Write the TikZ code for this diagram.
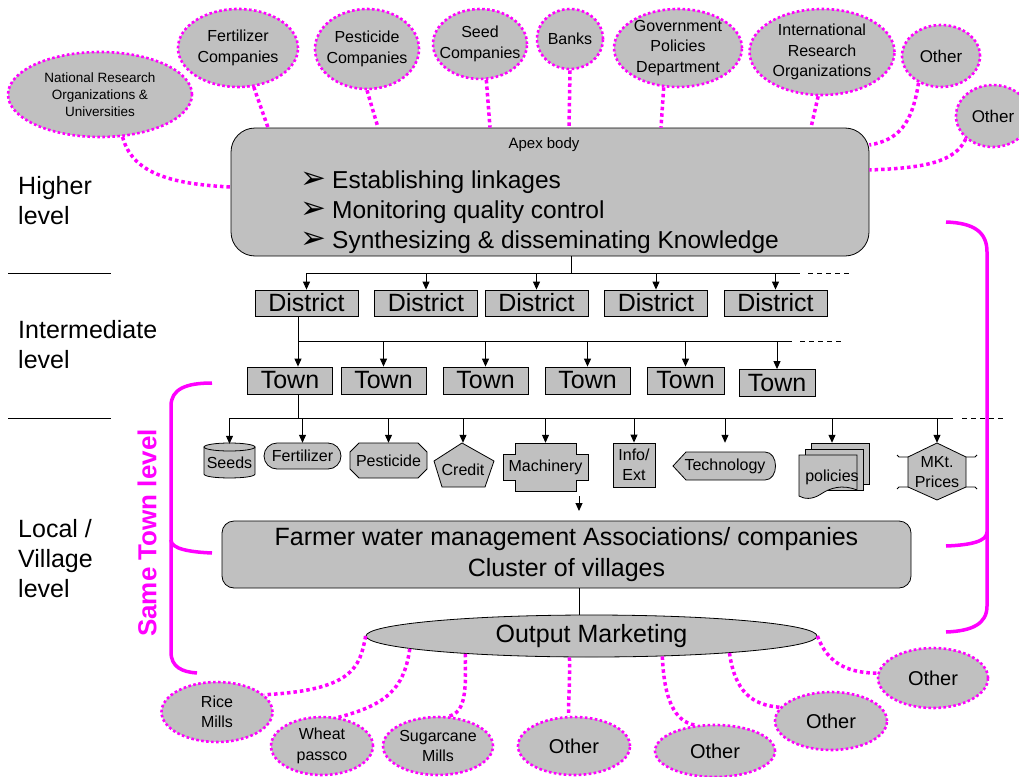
\documentclass[tikz,border=0pt]{standalone}
\usepackage{fontspec}
\setmainfont{Liberation Sans}
\newfontfamily\dingfont{DejaVu Sans}
\usepackage{tikz}
\usetikzlibrary{shapes.geometric,arrows.meta}
\definecolor{boxgray}{HTML}{C0C0C0}
\definecolor{linkpink}{HTML}{FF00FF}
\newcommand{\fs}[2]{\fontsize{#1}{#2}\selectfont}
\newcommand{\bul}{{\dingfont\fontsize{31}{30}\selectfont ➢}\hspace{6pt}}

\begin{document}
\begin{tikzpicture}[x=1pt,y=-1pt]
        \tikzset{
          Partner/.style={ellipse, draw=linkpink, fill=boxgray, line width=2.6pt,
            dash pattern=on 2.6pt off 2.4pt, inner sep=-12pt, align=center, font=\fs{16}{20.5}},
          Link/.style={draw=linkpink, line width=3.5pt, dash pattern=on 3.5pt off 3pt},
          Bracket/.style={draw=linkpink, line width=3.5pt},
          Unit/.style={draw, fill=boxgray, line width=0.8pt, inner sep=0pt, minimum height=26pt, font=\fs{25}{25}},
          Input/.style={draw, fill=boxgray, line width=0.8pt},
          Label/.style={inner sep=0pt, align=center, font=\fs{16}{20}},
          Bus/.style={line width=1pt},
          Cont/.style={line width=1pt, dash pattern=on 5pt off 4pt},
          Feed/.style={line width=1pt, -{Triangle[length=8pt,width=7pt]}},
          Level/.style={anchor=west, align=left, inner sep=0pt, font=\fs{25}{30}}
        }
        \useasboundingbox (0,0) rectangle (1019,776);

        \node[Level] (lvlhigh) at (18,201) {Higher\\level};
        \node[Level] (lvlmid) at (18,345) {Intermediate\\level};
        \node[Level] (lvllocal) at (18,559) {Local /\\Village\\level};
        \draw[Bus] (8,273) -- (111,273);
        \draw[Bus] (8,418) -- (111,418);

        \node[draw, fill=boxgray, line width=0.8pt, rounded corners=24pt, minimum width=638pt, minimum height=128pt] (apex) at (550,192) {};
        \node[font=\fs{15}{15}] (apexname) at (544,145) {Apex body};
        \node[anchor=west, align=left, inner sep=0pt, font=\fs{24.5}{30}] (apexlist) at (300,212)
          {\bul Establishing linkages\\\bul Monitoring quality control\\\bul Synthesizing \& disseminating Knowledge};

        \node[Partner, minimum width=184pt, minimum height=85pt, font=\fs{13.5}{17}] (natres) at (100,94.5) {National Research\\Organizations \&\\Universities};
        \node[Partner, minimum width=120pt, minimum height=78pt] (fertco) at (238,48) {Fertilizer\\Companies};
        \node[Partner, minimum width=104pt, minimum height=80pt] (pestco) at (367,49) {Pesticide\\Companies};
        \node[Partner, minimum width=94pt, minimum height=70pt] (seedco) at (480,44) {Seed\\Companies};
        \node[Partner, minimum width=66pt, minimum height=60pt] (banks) at (570,39) {Banks};
        \node[Partner, minimum width=128pt, minimum height=78pt] (govt) at (678,48) {Government\\Policies\\Department};
        \node[Partner, minimum width=145pt, minimum height=86pt] (intl) at (822,52) {International\\Research\\Organizations};
        \node[Partner, minimum width=78pt, minimum height=62pt, font=\fs{17}{20}] (othera) at (941,56) {Other};
        \node[Partner, minimum width=74pt, minimum height=62pt, font=\fs{17}{20}] (otherb) at (993,116) {Other};

        \draw[Link] (natres.-62) .. controls (132,172) and (168,184) .. ([yshift=5pt]apex.west);
        \draw[Link] (fertco.-68) -- ([xshift=-282pt]apex.north);
        \draw[Link] (pestco.south) -- ([xshift=-172pt]apex.north);
        \draw[Link] (seedco.-80) -- ([xshift=-60pt]apex.north);
        \draw[Link] (banks.south) -- ([xshift=19pt]apex.north);
        \draw[Link] (govt.-110) -- ([xshift=111pt]apex.north);
        \draw[Link] (intl.-95) -- ([xshift=261pt]apex.north);
        \draw[Link] (othera.-130) .. controls (912,125) and (898,140) .. ([yshift=47pt]apex.east);
        \draw[Link] (otherb.-140) .. controls (955,162) and (925,168) .. ([yshift=22pt]apex.east);

        \node[Unit, minimum width=103pt] (dist1) at (306.5,303) {District};
        \node[Unit, minimum width=103pt] (dist2) at (426,303) {District};
        \node[Unit, minimum width=103pt] (dist3) at (536.5,303) {District};
        \node[Unit, minimum width=103pt] (dist4) at (656,303) {District};
        \node[Unit, minimum width=103pt] (dist5) at (775.5,303) {District};
        \coordinate (dbus) at (571,273);
        \coordinate (dbusend) at (800,273);
        \draw[Bus] ([xshift=21pt]apex.south) -- (dbus);
        \draw[Bus] (dist1.north |- dbus) -- (dbusend);
        \draw[Cont] ([xshift=8pt]dbusend) -- ++(42,0);
        \foreach \n in {1,...,5} \draw[Feed] (dist\n.north |- dbus) -- (dist\n.north);

        \node[Unit, minimum width=85pt, minimum height=27pt] (town1) at (290,380.5) {Town};
        \node[Unit, minimum width=85pt, minimum height=27pt] (town2) at (383.5,380.5) {Town};
        \node[Unit, minimum width=85pt, minimum height=27pt] (town3) at (485.5,380.5) {Town};
        \node[Unit, minimum width=85pt, minimum height=27pt] (town4) at (587.5,380.5) {Town};
        \node[Unit, minimum width=77pt, minimum height=27pt] (town5) at (685.5,380.5) {Town};
        \node[Unit, minimum width=76pt, minimum height=27pt] (town6) at (777,383) {Town};
        \coordinate (tbus) at (298,341);
        \coordinate (tbusend) at (792,341);
        \draw[Feed] ([xshift=-8.5pt]dist1.south) -- ([xshift=8pt]town1.north);
        \draw[Bus] (tbus) -- (tbusend);
        \draw[Cont] ([xshift=8pt]tbusend) -- ++(42,0);
        \foreach \n in {2,...,6} \draw[Feed] (town\n.north |- tbus) -- (town\n.north);

        \path[Input] (204,447) -- (204,474) .. controls (204,479.3) and (255,479.3) .. (255,474) -- (255,447) -- cycle;
        \path[Input] (229.5,447) ellipse [x radius=25.5, y radius=4];
        \path[Input, rounded corners=13pt] (264,443) rectangle (341,469);
        \path[Input] (359,443) -- (418,443) -- (427,452) -- (427,469) -- (418,478) -- (359,478) -- (350,469) -- (350,452) -- cycle;
        \path[Input] (462,443) -- (494,461) -- (485,487) -- (442,487) -- (434,461) -- cycle;
        \path[Input] (515,443) -- (576,443) -- (576,454) -- (588,454) -- (588,480) -- (576,480) -- (576,491)
          -- (515,491) -- (515,480) -- (503,480) -- (503,454) -- (515,454) -- cycle;
        \path[Input] (673,466) -- (686,452) -- (765,452) .. controls (779,452) and (779,480) .. (765,480) -- (686,480) -- cycle;
        \path[Input] (811,443) rectangle (869,484);
        \path[Input] (805,449) rectangle (863,490);
        \path[Input] (799,455) -- (857,455) -- (857,490) .. controls (842,484) and (830,488) .. (821,494)
          .. controls (812,500) and (804,499) .. (799,496) -- cycle;
        \path[Input] (937,443) -- (966,457) -- (966,487) -- (937,500) -- (908,487) -- (908,457) -- cycle;
        \draw[line width=0.8pt] (897,455) -- (899,457) -- (908,457) (897,489) -- (899,487) -- (908,487)
          (977,455) -- (975,457) -- (966,457) (977,489) -- (975,487) -- (966,487);

        \node[Label, minimum height=38pt] (seeds) at (229.5,463) {Seeds};
        \node[Label, minimum height=26pt] (fert) at (302.5,456) {Fertilizer};
        \node[Label, minimum height=35pt] (pest) at (388.5,460.5) {Pesticide};
        \node[Label, minimum height=54pt] (credit) at (463,470) {Credit};
        \node[Label, minimum height=48pt] (mach) at (545.5,467) {Machinery};
        \node[Input, Label, minimum width=42pt, minimum height=44pt] (info) at (634,465) {Info/\\Ext};
        \node[Label, minimum height=46pt] (tech) at (725,466) {Technology};
        \node[Label, minimum height=68pt] (pol) at (832,477) {policies};
        \node[Label, minimum height=58pt] (prices) at (937,472) {MKt.\\Prices};
        \coordinate (rbus) at (298,418);
        \coordinate (rbusend) at (953,418);
        \draw[Bus] ([xshift=8pt]town1.south) -- (rbus);
        \draw[Bus] (seeds.north |- rbus) -- (rbusend);
        \draw[Cont] ([xshift=9pt]rbusend) -- ++(41,0);
        \foreach \r in {seeds,fert,pest,credit,mach,info,tech,pol,prices} \draw[Feed] (\r.north |- rbus) -- (\r.north);
        \coordinate (dropa) at (579,496);
        \coordinate (dropb) at (579,511);
        \draw[Feed] (dropa) -- (dropb);

        \node[draw, fill=boxgray, line width=0.8pt, rounded corners=12pt, minimum width=689pt, minimum height=67pt, align=center, font=\fs{25}{31}] (farmer) at (566.5,554.5)
          {Farmer water management Associations/ companies\\Cluster of villages};
        \node[ellipse, draw, fill=boxgray, line width=0.8pt, inner sep=0pt, minimum width=451pt, minimum height=42pt, font=\fs{25}{25}] (mkt) at (591.5,636) {Output Marketing};
        \draw[Bus] ([xshift=12.5pt]farmer.south) -- ([xshift=-12.5pt]mkt.north);

        \node[Partner, minimum width=111pt, minimum height=60pt] (rice) at (217,712) {Rice\\Mills};
        \node[Partner, minimum width=102pt, minimum height=58pt] (wheat) at (322,746) {Wheat\\passco};
        \node[Partner, minimum width=110pt, minimum height=58pt] (sugar) at (438,746) {Sugarcane\\Mills};
        \node[Partner, minimum width=112pt, minimum height=58pt, font=\fs{20}{20}] (otherc) at (574,746) {Other};
        \node[Partner, minimum width=120pt, minimum height=52pt, font=\fs{20}{20}] (otherd) at (715,751) {Other};
        \node[Partner, minimum width=112pt, minimum height=58pt, font=\fs{20}{20}] (othere) at (831,721) {Other};
        \node[Partner, minimum width=110pt, minimum height=60pt, font=\fs{20}{20}] (otherf) at (933,678) {Other};

        \draw[Link] (mkt.west) .. controls (360,668) and (352,690) .. (rice.20);
        \draw[Link] (mkt.-176) .. controls (404,690) and (385,705) .. (wheat.60);
        \draw[Link] (mkt.-172) .. controls (466,690) and (466,712) .. (sugar.70);
        \draw[Link] (mkt.-136) .. controls (570,690) and (568,705) .. (otherc.100);
        \draw[Link] (mkt.-16) .. controls (664,698) and (674,722) .. (otherd.127);
        \draw[Link] (mkt.-7) .. controls (735,692) and (752,705) .. (othere.165);
        \draw[Link] (mkt.east) .. controls (828,665) and (850,673) .. (otherf.175);

        \draw[Bracket] (212,383) .. controls (186,383) and (171,389) .. (171,406) -- (171,540) .. controls (171,549) and (190,552) .. (212,553);
        \draw[Bracket] (171,540) -- (171,652) .. controls (171,667) and (182,672) .. (197,673);
        \draw[Bracket] (946,222) .. controls (974,223) and (987,232) .. (987,252) -- (987,532) .. controls (987,541) and (972,545) .. (946,546);
        \draw[Bracket] (987,532) -- (987,606) .. controls (987,624) and (972,631) .. (946,632);
        \node[rotate=90, text=linkpink, font=\bfseries\fs{26}{26}] (samelbl) at (147,533) {Same Town level};
\end{tikzpicture}
\end{document}
